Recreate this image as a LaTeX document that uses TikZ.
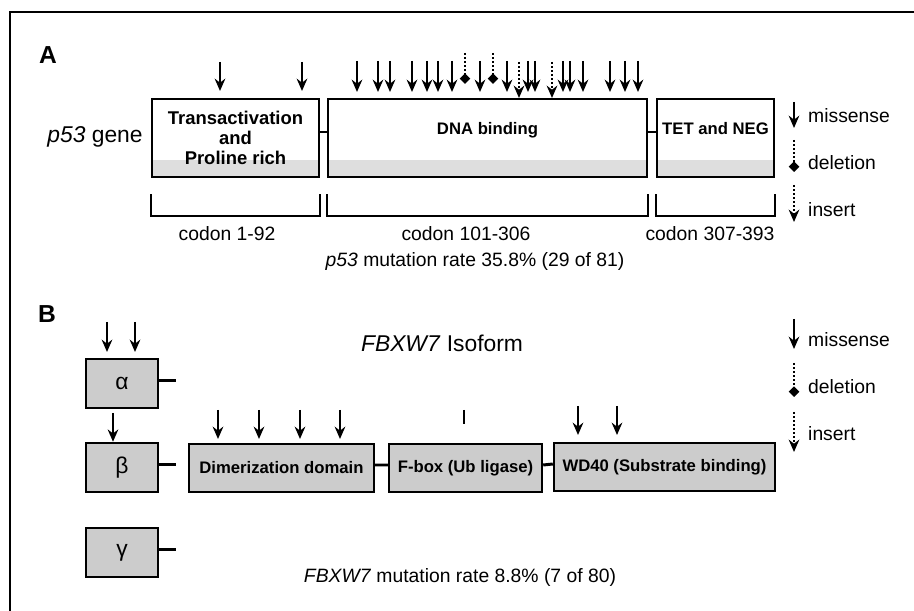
\documentclass[tikz,border=0pt]{standalone}
\usepackage{fontspec}
\setmainfont{Liberation Sans}
\usetikzlibrary{arrows.meta}

\begin{document}
\begin{tikzpicture}[x=0.02cm,y=-0.02cm,
  gbox/.style={draw,line width=1.4pt,inner sep=1pt,align=center,font=\bfseries\fontsize{9.5}{11.5}\selectfont,
    path picture={\fill[black!13] (path picture bounding box.south west) rectangle ([yshift=0.34cm]path picture bounding box.south east);}},
  ibox/.style={draw,line width=1.4pt,fill=black!20,inner sep=1pt,font=\bfseries\fontsize{9.5}{11.5}\selectfont},
  mis/.style={line width=1.3pt,-{Stealth[length=7pt,width=6pt]}},
  del/.style={line width=1.2pt,dash pattern=on 1.2pt off 1.1pt,-{Diamond[length=6pt,width=6pt]}},
  ins/.style={line width=1.2pt,dash pattern=on 1.2pt off 1.1pt,-{Stealth[length=7pt,width=6pt]}},
  txt/.style={font=\fontsize{11}{13}\selectfont}]
\useasboundingbox (0,0) rectangle (914,611);
\draw[line width=0.8pt] (914,12) -- (10,12) -- (10,611);
%%% A
\node[font=\bfseries\fontsize{14}{16}\selectfont] (labA) at (48,55) {A};
\node[font=\fontsize{13}{15}\selectfont] (p53) at (95,137) {\textit{p53} gene};
\node[gbox,minimum width=3.34cm,minimum height=1.56cm,font=\bfseries\fontsize{10.5}{11.5}\selectfont] (trans) at (235.5,138) {Transactivation\\and\\Proline rich};
\node[gbox,minimum width=6.38cm,minimum height=1.56cm,text depth=11pt] (dna) at (487.5,138) {DNA binding};
\node[gbox,minimum width=2.34cm,minimum height=1.56cm,text depth=11pt,inner sep=0pt] (tet) at (715.5,138) {TET and NEG};
\draw[line width=1.4pt] ([yshift=0.12cm]trans.east) -- ([yshift=0.12cm]dna.west)
  ([yshift=0.12cm]dna.east) -- ([yshift=0.12cm]tet.west);
\foreach \x in {220,302}
  \draw[mis] (\x,62) -- (\x,91);
\foreach \x in {357,378,390,412,427,438,452,480,507,528,535,563,570,583,610,625,638}
  \draw[mis] (\x,61) -- (\x,92);
\foreach \x in {465,493}
  \draw[del] (\x,53) -- (\x,84);
\foreach \x in {519,552}
  \draw[ins] (\x,62) -- (\x,98);
\draw[line width=1.2pt] ([yshift=-0.32cm]trans.south west) -- ++(0,22) -| ([yshift=-0.32cm]trans.south east)
  ([yshift=-0.32cm]dna.south west) -- ++(0,22) -| ([yshift=-0.32cm]dna.south east)
  ([yshift=-0.32cm]tet.south west) -- ++(0,22) -| ([yshift=-0.32cm]tet.south east);
\node[txt] (cod1) at (227,234) {codon 1-92};
\node[txt] (cod2) at (466,234) {codon 101-306};
\node[txt] (cod3) at (710,234) {codon 307-393};
\node[txt] (rateA) at (475,262) {\textit{p53} mutation rate 35.8\% (29 of 81)};
\draw[mis] (794,102) -- (794,128);
\draw[del] (794,140) -- (794,172);
\draw[ins] (794,185) -- (794,222);
\node[txt,anchor=west] (misA) at (802,116) {missense};
\node[txt,anchor=west] (delA) at (802,163) {deletion};
\node[txt,anchor=west] (insA) at (802,210) {insert};
%%% B
\node[font=\bfseries\fontsize{14}{16}\selectfont] (labB) at (47,314) {B};
\node[font=\fontsize{13}{15}\selectfont] (iso) at (442,343) {\textit{FBXW7} Isoform};
\node[ibox,minimum width=1.44cm,minimum height=0.98cm,font=\fontsize{13}{15}\selectfont] (alpha) at (122,383.5) {α};
\node[ibox,minimum width=1.44cm,minimum height=0.98cm,font=\fontsize{13}{15}\selectfont] (beta) at (122,467.5) {β};
\node[ibox,minimum width=1.44cm,minimum height=0.98cm,font=\fontsize{13}{15}\selectfont] (gamma) at (122,552.5) {γ};
\draw[line width=1.7pt] ([yshift=0.06cm]alpha.east) -- ++(17,0)
  ([yshift=0.06cm]beta.east) -- ++(17,0)
  ([yshift=0.06cm]gamma.east) -- ++(17,0);
\node[ibox,minimum width=3.7cm,minimum height=0.96cm] (dimer) at (281.5,468) {Dimerization domain};
\node[ibox,minimum width=3.06cm,minimum height=0.96cm] (fbox) at (465.5,468) {F-box (Ub ligase)};
\node[ibox,minimum width=4.42cm,minimum height=0.96cm,inner sep=0pt] (wd) at (664.5,467) {WD40 (Substrate binding)};
\draw[line width=1.7pt] ([yshift=0.06cm]dimer.east) -- ([yshift=0.06cm]fbox.west)
  ([yshift=0.06cm]fbox.east) -- ([yshift=0.06cm]wd.west);
\foreach \x in {107,135}
  \draw[mis] (\x,322) -- (\x,352);
\draw[mis] (113,413) -- (beta.north -| 113,0);
\foreach \x in {218,259,300,340}
  \draw[mis] (\x,410) -- (\x,439);
\foreach \x in {578,617}
  \draw[mis] (\x,406) -- (\x,435);
\draw[line width=1.6pt] (464,410) -- (464,424);
\node[txt] (rateB) at (460,577) {\textit{FBXW7} mutation rate 8.8\% (7 of 80)};
\draw[mis] (794,319) -- (794,349);
\draw[del] (794,363) -- (794,397);
\draw[ins] (794,412) -- (794,452);
\node[txt,anchor=west] (misB) at (802,340) {missense};
\node[txt,anchor=west] (delB) at (802,387) {deletion};
\node[txt,anchor=west] (insB) at (802,434) {insert};
\end{tikzpicture}
\end{document}
